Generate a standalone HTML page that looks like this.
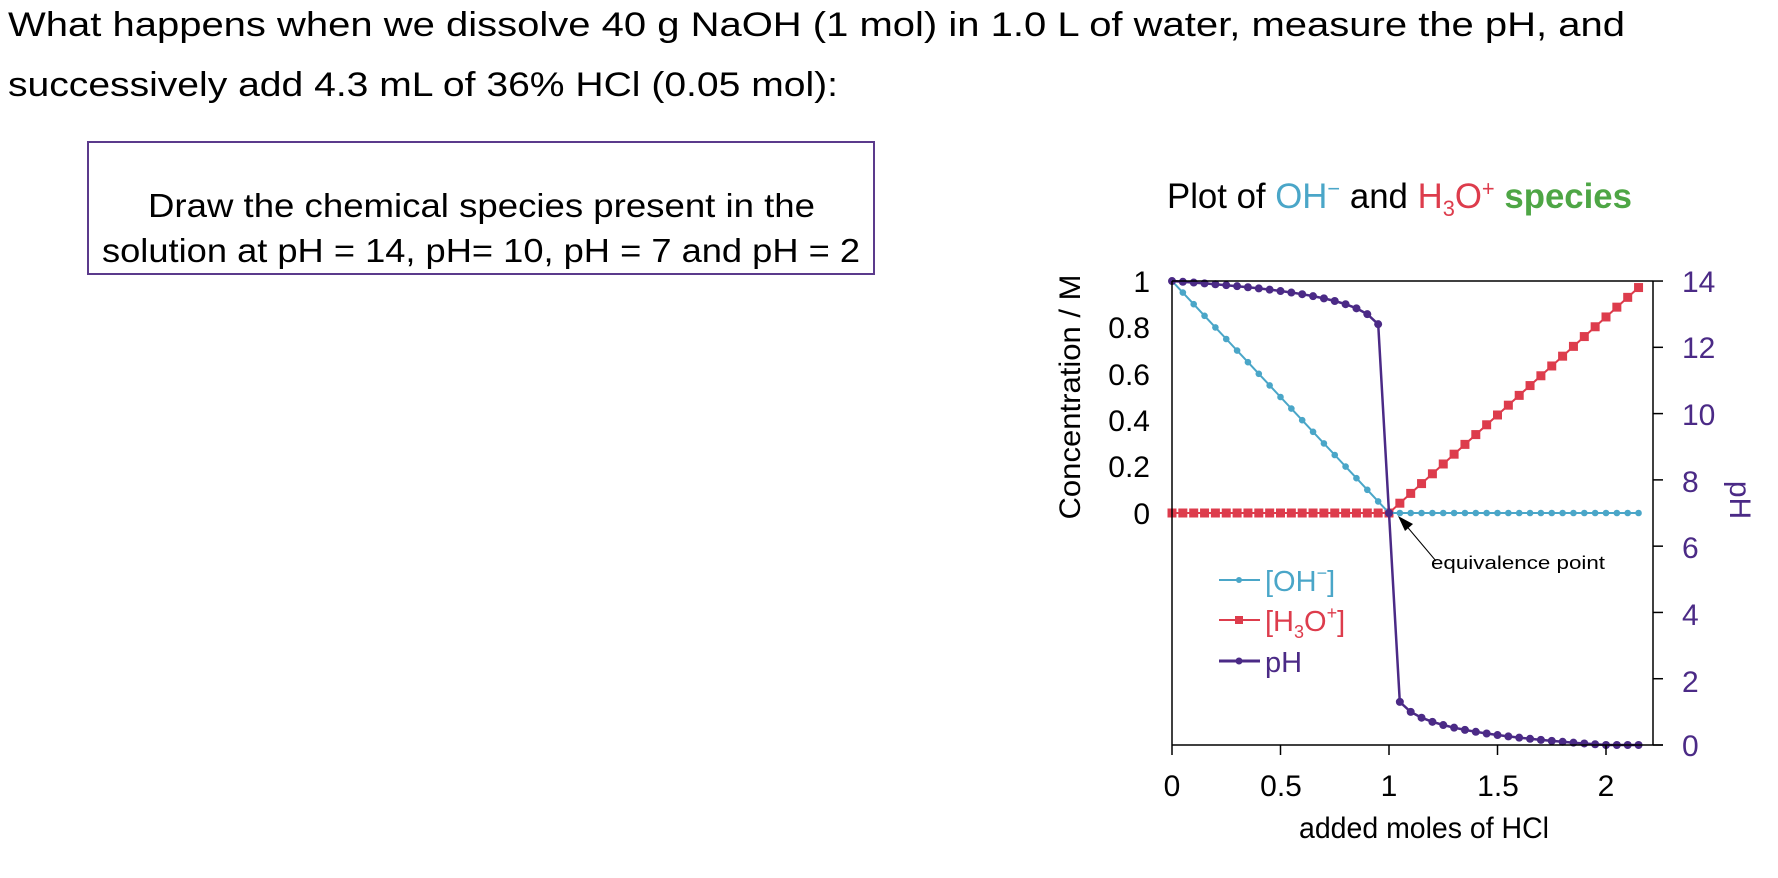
<!DOCTYPE html>
<html><head><meta charset="utf-8"><style>
html,body{margin:0;padding:0;background:#fff;}
svg{display:block;font-family:"Liberation Sans",sans-serif;}
</style></head><body>
<svg id="s" width="1778" height="878" viewBox="0 0 1778 878" xmlns="http://www.w3.org/2000/svg">
<text x="8" y="36" font-size="34" textLength="1617" lengthAdjust="spacingAndGlyphs">What happens when we dissolve 40 g NaOH (1 mol) in 1.0 L of water, measure the pH, and</text>
<text x="8" y="96" font-size="34" textLength="830" lengthAdjust="spacingAndGlyphs">successively add 4.3 mL of 36% HCl (0.05 mol):</text>
<rect x="88" y="142" width="786" height="132" fill="none" stroke="#5b3a8c" stroke-width="2"/>
<text x="148" y="217" font-size="33" textLength="667" lengthAdjust="spacingAndGlyphs">Draw the chemical species present in the</text>
<text x="102" y="262" font-size="33" textLength="758" lengthAdjust="spacingAndGlyphs">solution  at pH = 14, pH= 10, pH = 7 and pH = 2</text>

<text x="1167" y="208" font-size="35" textLength="465" lengthAdjust="spacingAndGlyphs"><tspan fill="#000">Plot of </tspan><tspan fill="#4aa6c8">OH</tspan><tspan fill="#4aa6c8" font-size="22" dy="-12">−</tspan><tspan fill="#000" dy="12"> and </tspan><tspan fill="#dd3c4c">H</tspan><tspan fill="#dd3c4c" font-size="22" dy="8">3</tspan><tspan fill="#dd3c4c" dy="-8">O</tspan><tspan fill="#dd3c4c" font-size="22" dy="-12">+</tspan><tspan fill="#4ea645" font-weight="bold" dy="12"> species</tspan></text>

<g id="plot"></g>

<line x1="1172" y1="281" x2="1653" y2="281" stroke="#000" stroke-width="1.5"/>
<line x1="1172" y1="281" x2="1172" y2="745" stroke="#000" stroke-width="1.5"/>
<line x1="1172" y1="745" x2="1663" y2="745" stroke="#000" stroke-width="1.5"/>
<line x1="1653" y1="281" x2="1653" y2="745" stroke="#000" stroke-width="1.5"/>
<g id="ticks" stroke="#000" stroke-width="1.5"></g>
<g font-size="30" text-anchor="end" fill="#000">
<text x="1150" y="292">1</text><text x="1150" y="338">0.8</text><text x="1150" y="385">0.6</text><text x="1150" y="431">0.4</text><text x="1150" y="477">0.2</text><text x="1150" y="524">0</text>
</g>
<g font-size="30" text-anchor="start" fill="#4b2a86">
<text x="1682" y="292">14</text><text x="1682" y="358">12</text><text x="1682" y="425">10</text><text x="1682" y="492">8</text><text x="1682" y="558">6</text><text x="1682" y="625">4</text><text x="1682" y="692">2</text><text x="1682" y="756">0</text>
</g>
<g font-size="30" text-anchor="middle" fill="#000">
<text x="1172" y="796">0</text><text x="1281" y="796">0.5</text><text x="1389" y="796">1</text><text x="1498" y="796">1.5</text><text x="1606" y="796">2</text>
</g>
<text x="1424" y="838" font-size="30" text-anchor="middle" textLength="250" lengthAdjust="spacingAndGlyphs">added moles of HCl</text>
<text transform="translate(1080,397) rotate(-90)" font-size="30" text-anchor="middle" textLength="245" lengthAdjust="spacingAndGlyphs">Concentration / M</text>
<text transform="translate(1730,500) rotate(90)" font-size="30" text-anchor="middle" fill="#4b2a86">pH</text>

<line x1="1436" y1="561" x2="1404" y2="523" stroke="#000" stroke-width="1"/>
<polygon points="1398,516 1413,524 1405,531" fill="#000"/>
<text x="1431" y="569" font-size="18" textLength="174" lengthAdjust="spacingAndGlyphs">equivalence point</text>

<line x1="1219" y1="580" x2="1260" y2="580" stroke="#4aa6c8" stroke-width="2"/>
<circle cx="1239" cy="580" r="3" fill="#4aa6c8"/>
<text x="1265" y="591" font-size="29" fill="#4aa6c8">[OH<tspan font-size="18" dy="-12">−</tspan><tspan dy="12">]</tspan></text>
<line x1="1219" y1="620" x2="1260" y2="620" stroke="#dd3c4c" stroke-width="2"/>
<rect x="1235" y="616" width="8" height="8" fill="#dd3c4c"/>
<text x="1265" y="631" font-size="29" fill="#dd3c4c">[H<tspan font-size="18" dy="7">3</tspan><tspan dy="-7">O</tspan><tspan font-size="18" dy="-12">+</tspan><tspan dy="12">]</tspan></text>
<line x1="1219" y1="661" x2="1260" y2="661" stroke="#4b2a86" stroke-width="3"/>
<circle cx="1239" cy="661" r="3.5" fill="#4b2a86"/>
<text x="1265" y="672" font-size="29" fill="#4b2a86">pH</text>
</svg>
<script>
(function(){
var NS="http://www.w3.org/2000/svg";
var g=document.getElementById("plot"),t=document.getElementById("ticks");
function X(x){return 1172+217*x;}
function C(c){return 513-232*c;}
function P(p){return 745-33.14*p;}
function el(n,a,p){var e=document.createElementNS(NS,n);for(var k in a)e.setAttribute(k,a[k]);(p||g).appendChild(e);return e;}
[0,0.5,1,1.5,2].forEach(function(v){el("line",{x1:X(v),y1:745,x2:X(v),y2:755},t);});
for(var p=0;p<=14;p+=2)el("line",{x1:1653,y1:P(p),x2:1663,y2:P(p)},t);
var oh=[],h=[],ph=[];
for(var i=0;i<=43;i++){var x=i*0.05;
 var o=x<1?1-x:0, hh=x>1?(x-1)*0.845:0, pv;
 if(Math.abs(x-1)<1e-9)pv=7;else if(x<1)pv=14+Math.log10(1-x);else pv=Math.max(-Math.log10(x-1),0);
 oh.push([X(x),C(o)]);h.push([X(x),C(hh)]);ph.push([X(x),P(pv)]);}
function pts(a){return a.map(function(q){return q[0].toFixed(1)+","+q[1].toFixed(1);}).join(" ");}
el("polyline",{points:pts(h),fill:"none",stroke:"#dd3c4c","stroke-width":2});
h.forEach(function(q){el("rect",{x:q[0]-4.5,y:q[1]-4.5,width:9,height:9,fill:"#dd3c4c"});});
el("polyline",{points:pts(oh),fill:"none",stroke:"#4aa6c8","stroke-width":2});
oh.forEach(function(q){el("circle",{cx:q[0],cy:q[1],r:3.3,fill:"#4aa6c8"});});
el("polyline",{points:pts(ph),fill:"none",stroke:"#4b2a86","stroke-width":2.5});
ph.forEach(function(q){el("circle",{cx:q[0],cy:q[1],r:4,fill:"#4b2a86"});});
})();
</script>
</body></html>
